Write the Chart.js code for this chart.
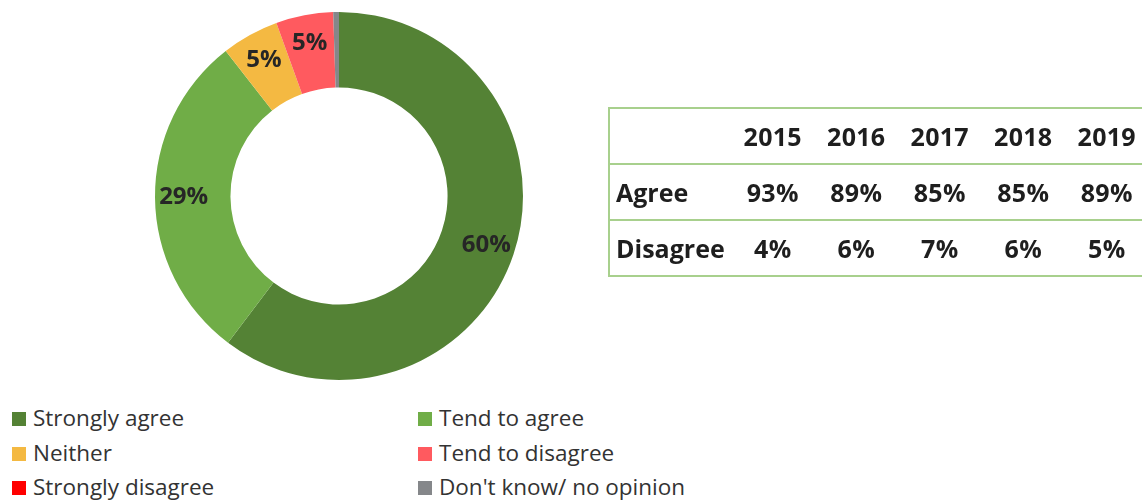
<!DOCTYPE html>
<html>
<head>
<meta charset="utf-8">
<script src="https://cdn.jsdelivr.net/npm/chart.js@4.4.1/dist/chart.umd.min.js"></script>
<style>
  body { margin: 0; background: #fff; font-family: "Open Sans", sans-serif; color: #1e1e1e; }
  #wrap { position: relative; width: 1142px; height: 501px; overflow: hidden; }
  #donut { position: absolute; left: 0; top: 0; }
  #trend { position: absolute; left: 608px; top: 107px; width: 540px; table-layout: fixed; border-collapse: collapse; border: 2px solid #a8d08d; border-right: none; }
  #trend td { border-top: 2px solid #a8d08d; height: 54px; padding: 0; font-weight: 700; font-size: 25px; text-align: center; width: 83.5px; letter-spacing: 0.3px; }
  #trend tr:first-child td { border-top: none; }
  #trend td.rowhead { text-align: left; padding-left: 6px; width: 115px; letter-spacing: 0; }
  #legend { position: absolute; left: 12px; top: 402px; width: 820px; color: #333; }
  .item { position: absolute; font-size: 22.5px; white-space: nowrap; }
  .box { display: inline-block; width: 14px; height: 14px; margin-right: 7px; vertical-align: 0px; }
</style>
</head>
<body>
<div id="wrap">
  <canvas id="donut" width="678" height="392"></canvas>
  <table id="trend"></table>
  <div id="legend"></div>
</div>
<script>
// opinion split for the latest year
const categories = ['Strongly agree', 'Tend to agree', 'Neither', 'Tend to disagree', 'Strongly disagree', "Don't know/ no opinion"];
const shares = [60, 29, 5, 5, 0, 0.5];
const colors = ['#548235', '#70ad47', '#f4b942', '#ff5a5f', '#ff0000', '#85878a'];

// yearly summary table
const years = ['2015', '2016', '2017', '2018', '2019'];
const agree = ['93%', '89%', '85%', '85%', '89%'];
const disagree = ['4%', '6%', '7%', '6%', '5%'];

// percent labels drawn inside the ring
const sliceLabels = {
    id: 'sliceLabels',
    afterDatasetsDraw(chart) {
        const ctx = chart.ctx;
        const meta = chart.getDatasetMeta(0);
        ctx.save();
        ctx.font = 'bold 24px "Open Sans"';
        ctx.fillStyle = '#262626';
        ctx.textAlign = 'center';
        ctx.textBaseline = 'middle';
        meta.data.forEach((arc, i) => {
            if (shares[i] < 1) return;
            const p = arc.getProps(['x', 'y', 'startAngle', 'endAngle', 'innerRadius', 'outerRadius'], true);
            const mid = (p.startAngle + p.endAngle) / 2;
            const r = p.innerRadius + (p.outerRadius - p.innerRadius) * 0.62;
            ctx.fillText(shares[i] + '%', p.x + Math.cos(mid) * r, p.y + Math.sin(mid) * r);
        });
        ctx.restore();
    }
};

new Chart(document.getElementById('donut'), {
    type: 'doughnut',
    data: {
        labels: categories,
        datasets: [{
            data: shares,
            backgroundColor: colors,
            borderWidth: 0
        }]
    },
    options: {
        responsive: false,
        animation: false,
        cutout: '59%',
        layout: { padding: { top: 12, bottom: 12 } },
        plugins: {
            legend: { display: false },
            tooltip: { enabled: false }
        }
    },
    plugins: [sliceLabels]
});

// table rows
const table = document.getElementById('trend');
function addRow(head, cells) {
    const tr = document.createElement('tr');
    const th = document.createElement('td');
    th.className = 'rowhead';
    th.textContent = head;
    tr.appendChild(th);
    cells.forEach(c => {
        const td = document.createElement('td');
        td.textContent = c;
        tr.appendChild(td);
    });
    table.appendChild(tr);
}
addRow('', years);
addRow('Agree', agree);
addRow('Disagree', disagree);

// legend in two columns
const legend = document.getElementById('legend');
categories.forEach((name, i) => {
    const el = document.createElement('div');
    el.className = 'item';
    el.style.left = (i % 2 ? 406 : 0) + 'px';
    el.style.top = (Math.floor(i / 2) * 34.5) + 'px';
    el.innerHTML = '<span class="box"></span>';
    el.firstChild.style.background = colors[i];
    el.appendChild(document.createTextNode(name));
    legend.appendChild(el);
});
</script>
</body>
</html>
